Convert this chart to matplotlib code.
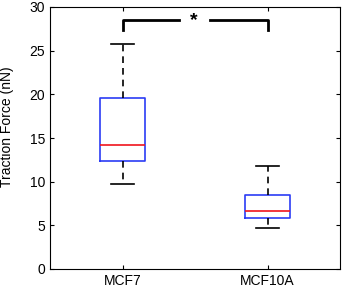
import matplotlib
matplotlib.use("Agg")
import matplotlib.pyplot as plt

plt.rcParams['font.family'] = ['Liberation Sans', 'DejaVu Sans']

# values
groups = ['MCF7', 'MCF10A']
whislo = [9.75, 4.75]
q1 = [12.35, 5.8]
med = [14.25, 6.6]
q3 = [19.55, 8.5]
whishi = [25.8, 11.85]
yticks = [0, 5, 10, 15, 20, 25, 30]

stats = []
for i, g in enumerate(groups):
    stats.append({'label': g, 'whislo': whislo[i], 'q1': q1[i], 'med': med[i],
                  'q3': q3[i], 'whishi': whishi[i], 'fliers': []})

fig = plt.figure(figsize=(3.44, 2.91), dpi=100)
ax = fig.add_axes([50 / 344, 22 / 291, 290 / 344, 262 / 291])

ax.bxp(stats, positions=[1, 2], widths=0.31, showfliers=False,
       boxprops=dict(color='#2b3cf5', linewidth=1.2),
       medianprops=dict(color='#f0141e', linewidth=1.2),
       whiskerprops=dict(color='black', linestyle=(0, (4, 3)), linewidth=1.2),
       capprops=dict(color='black', linewidth=1.2),
       capwidths=0.16)

# significance bracket
y_top = 28.5
y_drop = 27.4
ax.plot([1, 1, 1.39], [y_drop, y_top, y_top], color='black', linewidth=2)
ax.plot([1.6, 2, 2], [y_top, y_top, y_drop], color='black', linewidth=2)
ax.text(1.495, y_top, '*', ha='center', va='center', fontsize=14, fontweight='bold')

ax.set_xlim(0.5, 2.5)
ax.set_ylim(0, 30)
ax.set_yticks(yticks)
ax.set_xticks([1, 2])
ax.set_xticklabels(groups)
ax.set_ylabel('Traction Force (nN)', fontsize=10)
ax.yaxis.set_label_coords(-0.125, 0.545)
ax.tick_params(direction='in', top=True, right=True, labelsize=10, length=3)
for s in ax.spines.values():
    s.set_linewidth(0.8)

fig.savefig('out.png', dpi=100)
